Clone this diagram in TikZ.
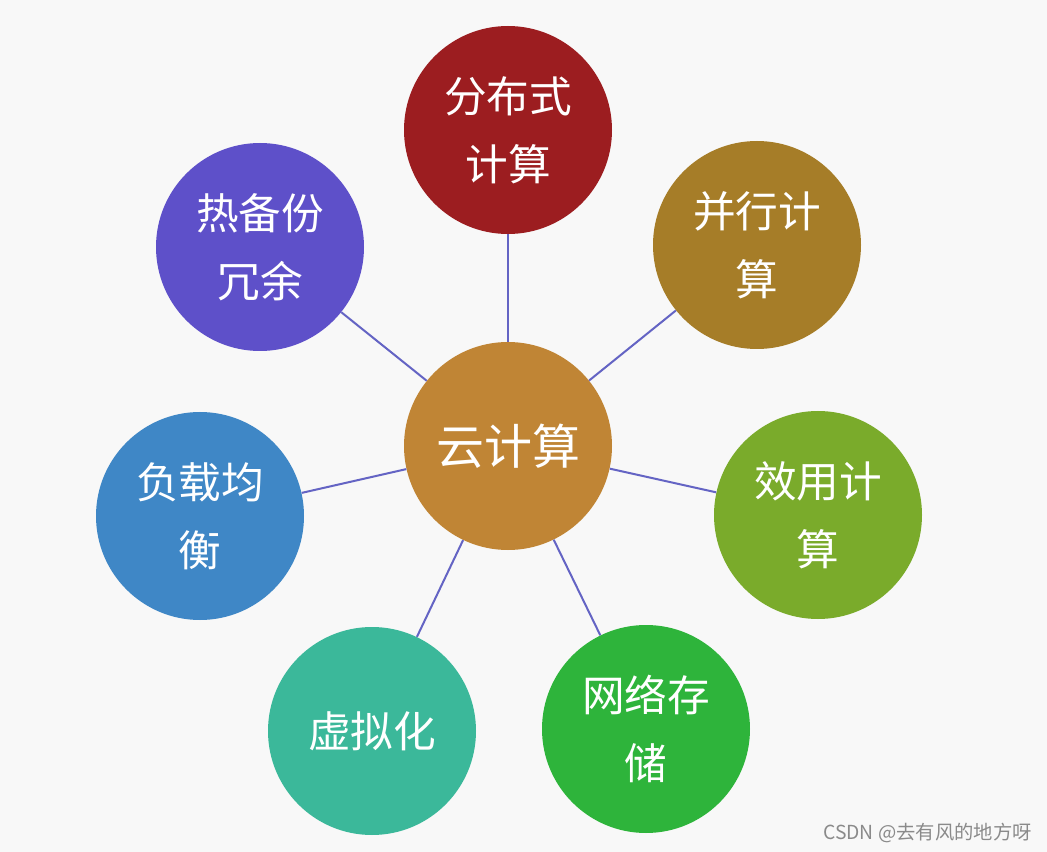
\documentclass[tikz,border=0pt]{standalone}
\usepackage{fontspec}
\setmainfont{Noto Sans CJK SC}
\definecolor{bgc}{HTML}{F8F8F8}
\definecolor{linec}{HTML}{6464C4}
\definecolor{cRed}{HTML}{9C1D20}
\definecolor{cGold}{HTML}{A67D28}
\definecolor{cOlive}{HTML}{7AAB2B}
\definecolor{cGreen}{HTML}{2EB43B}
\definecolor{cTeal}{HTML}{3BB89A}
\definecolor{cBlue}{HTML}{3F87C6}
\definecolor{cPurple}{HTML}{5E50C9}
\definecolor{cCenter}{HTML}{C08535}
\definecolor{wmc}{HTML}{8A8A8A}
\tikzset{
  bubble/.style={circle, minimum size=156pt, inner sep=0pt, text=white,
    align=center, font=\fontsize{32}{51}\selectfont},
  hub/.style={bubble, font=\fontsize{36}{51}\selectfont},
  conn/.style={draw=linec, line width=1.5pt}
}
\begin{document}
\begin{tikzpicture}[x=0.75pt,y=-0.75pt]
\fill[bgc] (0,0) rectangle (1047,852);
\useasboundingbox (0,0) rectangle (1047,852);
\node[hub, fill=cCenter] (c) at (508,446) {云计算};
\node[bubble, fill=cRed] (n1) at (508,130) {分布式\\计算};
\node[bubble, fill=cGold] (n2) at (757,245) {并行计\\算};
\node[bubble, fill=cOlive] (n3) at (818,515) {效用计\\算};
\node[bubble, fill=cGreen] (n4) at (646,729) {网络存\\储};
\node[bubble, fill=cTeal] (n5) at (372,731) {虚拟化};
\node[bubble, fill=cBlue] (n6) at (200,516) {负载均\\衡};
\node[bubble, fill=cPurple] (n7) at (260,247) {热备份\\冗余};
\foreach \n in {n1,n2,n3,n4,n5,n6,n7}{\draw[conn] (c) -- (\n);}
\node[text=wmc, font=\fontsize{14.5}{16}\selectfont, anchor=east, inner sep=0pt] (wm) at (1032,833) {CSDN @去有风的地方呀};
\end{tikzpicture}
\end{document}
